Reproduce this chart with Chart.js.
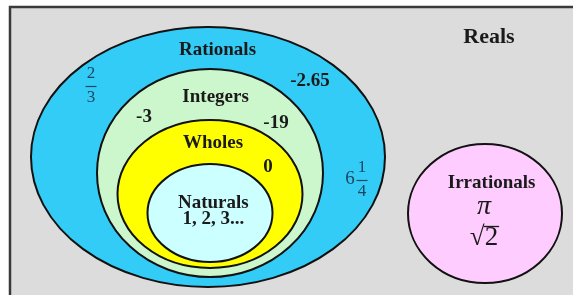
<!DOCTYPE html>
<html>
<head>
<meta charset="utf-8">
<script src="https://cdn.jsdelivr.net/npm/chart.js@4.4.1/dist/chart.umd.min.js"></script>
<style>
  html, body { margin: 0; padding: 0; background: #ffffff; }
  canvas { display: block; }
</style>
</head>
<body>
<canvas id="c" width="573" height="297"></canvas>
<script>
// ---- Data (diagram units) ----
const setNames   = ['Rationals', 'Integers', 'Wholes', 'Naturals', 'Irrationals'];
const setCenterX = [208, 210, 210, 210, 485];
const setCenterY = [157, 173, 194, 213, 213.5];
const setRadiusX = [177, 113, 92.5, 62.5, 77];
const setRadiusY = [130, 104, 74, 49, 69.5];

const labelTexts = ['Reals', 'Rationals', '-2.65', 'Integers', '-3', '-19', 'Wholes', '0', 'Naturals', '1, 2, 3...', 'Irrationals'];
const labelX     = [489, 217.5, 310, 215.6, 144, 276, 213, 268, 213.3, 213.3, 491.6];
const labelY     = [37, 50, 81, 97, 117, 123, 143, 167, 203, 219, 183];

const fractionWhole = ['', '6'];
const fractionNum   = ['2', '1'];
const fractionDen   = ['3', '4'];
const fractionX     = [91, 362];
const fractionY     = [86, 180];

const symbolTexts = ['π', '√2'];
const symbolX     = [484, 484];
const symbolY     = [207, 238];

const universeBox = { x0: 10, y0: 7, x1: 573, y1: 295 };

// ---- Styles ----
const fills = ['#33CCF7', '#CCF7CC', '#FFFF00', '#CCFFFF', '#FFCCFF'];
const SERIF = '"Liberation Serif", "Times New Roman", serif';

const vennPlugin = {
  id: 'venn',
  beforeDatasetsDraw(chart) {
    const { ctx, scales: { x, y } } = chart;
    ctx.save();
    const bx0 = x.getPixelForValue(universeBox.x0), by0 = y.getPixelForValue(universeBox.y0);
    const bx1 = x.getPixelForValue(universeBox.x1), by1 = y.getPixelForValue(universeBox.y1);
    ctx.fillStyle = '#dcdcdc';
    ctx.fillRect(bx0, by0, bx1 - bx0, by1 - by0);
    ctx.strokeStyle = '#3a3a3a';
    ctx.lineWidth = 2.5;
    ctx.beginPath();
    ctx.moveTo(bx0, by1);
    ctx.lineTo(bx0, by0);
    ctx.lineTo(bx1, by0);
    ctx.stroke();

    for (let i = 0; i < setNames.length; i++) {
      const cx = x.getPixelForValue(setCenterX[i]);
      const cy = y.getPixelForValue(setCenterY[i]);
      const rx = Math.abs(x.getPixelForValue(setCenterX[i] + setRadiusX[i]) - cx);
      const ry = Math.abs(y.getPixelForValue(setCenterY[i] + setRadiusY[i]) - cy);
      ctx.beginPath();
      ctx.ellipse(cx, cy, rx, ry, 0, 0, Math.PI * 2);
      ctx.fillStyle = fills[i];
      ctx.fill();
      ctx.lineWidth = 2;
      ctx.strokeStyle = '#111111';
      ctx.stroke();
    }

    ctx.textAlign = 'center';
    ctx.textBaseline = 'middle';
    ctx.fillStyle = '#1a1a1a';
    for (let i = 0; i < labelTexts.length; i++) {
      const size = labelTexts[i] === 'Reals' ? 22 : 19;
      ctx.font = 'bold ' + size + 'px ' + SERIF;
      ctx.fillText(labelTexts[i], x.getPixelForValue(labelX[i]), y.getPixelForValue(labelY[i]));
    }

    ctx.fillStyle = '#1b4660';
    ctx.strokeStyle = '#1b4660';
    for (let i = 0; i < fractionNum.length; i++) {
      const fx = x.getPixelForValue(fractionX[i]);
      const fy = y.getPixelForValue(fractionY[i]);
      ctx.font = '17px ' + SERIF;
      ctx.fillText(fractionNum[i], fx, fy - 12);
      ctx.fillText(fractionDen[i], fx, fy + 12);
      ctx.lineWidth = 1.2;
      ctx.beginPath();
      ctx.moveTo(fx - 5.5, fy + 0.5);
      ctx.lineTo(fx + 5.5, fy + 0.5);
      ctx.stroke();
      if (fractionWhole[i]) {
        ctx.font = '19px ' + SERIF;
        ctx.fillText(fractionWhole[i], fx - 12, fy - 1);
      }
    }

    ctx.fillStyle = '#1a1a1a';
    ctx.strokeStyle = '#1a1a1a';
    ctx.font = 'italic 28px ' + SERIF;
    ctx.fillText(symbolTexts[0], x.getPixelForValue(symbolX[0]), y.getPixelForValue(symbolY[0]));
    const sx = x.getPixelForValue(symbolX[1]);
    const sy = y.getPixelForValue(symbolY[1]);
    ctx.font = '27px ' + SERIF;
    ctx.fillText(symbolTexts[1], sx, sy);
    const w = ctx.measureText(symbolTexts[1]).width;
    const wr = ctx.measureText('√').width;
    ctx.lineWidth = 1.3;
    ctx.beginPath();
    ctx.moveTo(sx - w / 2 + wr - 1, sy - 11.5);
    ctx.lineTo(sx + w / 2 + 1, sy - 11.5);
    ctx.stroke();
    ctx.restore();
  }
};

new Chart(document.getElementById('c'), {
  type: 'scatter',
  data: {
    datasets: [{
      label: 'Sets',
      data: setNames.map((n, i) => ({ x: setCenterX[i], y: setCenterY[i] })),
      pointRadius: 0,
      pointHoverRadius: 0
    }]
  },
  options: {
    responsive: false,
    animation: false,
    events: [],
    layout: { padding: 0 },
    plugins: { legend: { display: false }, tooltip: { enabled: false } },
    scales: {
      x: { type: 'linear', min: 0, max: 573, display: false },
      y: { type: 'linear', min: 0, max: 297, reverse: true, display: false }
    }
  },
  plugins: [vennPlugin]
});
</script>
</body>
</html>
